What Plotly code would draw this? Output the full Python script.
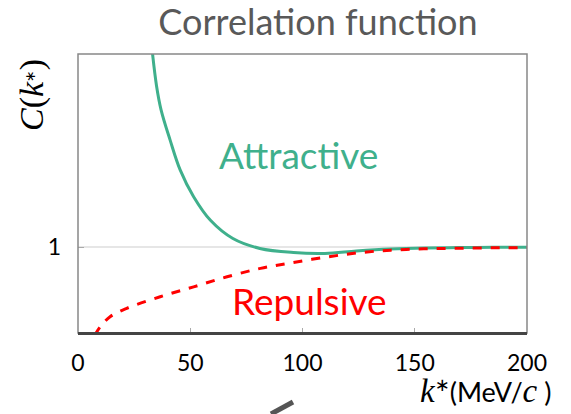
import plotly.graph_objects as go

# Data
k_attr = [33, 35, 37, 41, 45.5, 51.5, 59, 69, 81, 96, 110, 124, 139, 155, 170, 185, 200]
c_attr = [1.92, 1.75, 1.64, 1.50, 1.36, 1.235, 1.125, 1.04, 0.994, 0.975, 0.971, 0.982, 0.991, 0.996, 0.998, 0.999, 1.0]

k_rep = [7.5, 10, 14.3, 21.7, 36.6, 51.5, 66.4, 81.3, 94.6, 109.5, 124.4, 139.3, 154, 169, 185, 200]
c_rep = [0.59, 0.63, 0.676, 0.715, 0.769, 0.815, 0.862, 0.901, 0.926, 0.952, 0.973, 0.986, 0.992, 0.995, 0.997, 0.998]

x_ticks = [0, 50, 100, 150, 200]
y_ticks = [1]

GREEN = "#3fb08c"
RED = "#ff0000"
SERIF = "Liberation Serif"


def serif(ch, size):
    return f"<span style='font-family:{SERIF};font-size:{size}px'><i>{ch}</i></span>"


star_y = "<span style='font-family:DejaVu Sans;font-size:20px'><sup>∗</sup></span>"
star_x = "<sup><span style='font-family:DejaVu Sans;font-size:18px'>∗</span></sup>"

fig = go.Figure()
fig.add_trace(go.Scatter(x=k_attr, y=c_attr, mode="lines",
                         line=dict(color=GREEN, width=3, shape="spline"),
                         showlegend=False, hoverinfo="skip"))
fig.add_trace(go.Scatter(x=k_rep, y=c_rep, mode="lines",
                         line=dict(color=RED, width=3, dash="dash", shape="spline"),
                         showlegend=False, hoverinfo="skip"))

fig.update_layout(
    width=571, height=414,
    margin=dict(l=78, r=44, t=54, b=81),
    paper_bgcolor="white", plot_bgcolor="white",
    font=dict(family="Lato", color="black"),
    title=dict(text="Correlation function", x=318/571, xanchor="center",
               y=1-22/414, yanchor="middle", yref="container",
               font=dict(family="Lato", size=36, color="#595959")),
    xaxis=dict(range=[0, 200], tickvals=x_ticks, ticks="inside", ticklen=5,
               tickcolor="#aaaaaa", showgrid=False, zeroline=False,
               showline=True, linecolor="#444444", linewidth=2,
               tickfont=dict(family="Lato", size=23, color="black"),
               ticklabelstandoff=8),
    yaxis=dict(range=[0.6, 1.9], tickvals=y_ticks, ticks="inside", ticklen=6,
               tickcolor="#aaaaaa", showgrid=True, gridcolor="#e6e6e6", gridwidth=2,
               zeroline=False, showline=False,
               tickfont=dict(family="Lato", size=23, color="black"),
               ticklabelstandoff=16),
    shapes=[
        dict(type="rect", xref="x domain", yref="y domain", x0=0, x1=1, y0=0, y1=1,
             line=dict(color="#888888", width=1.5), fillcolor="rgba(0,0,0,0)", layer="above"),
        dict(type="line", xref="x domain", yref="y domain", x0=0, x1=1, y0=0, y1=0,
             line=dict(color="#444444", width=2), layer="above"),
        dict(type="line", xref="paper", yref="paper",
             x0=(271-78)/449, y0=(333-414)/279, x1=(293-78)/449, y1=(333-402)/279,
             line=dict(color="#555555", width=5)),
    ],
    annotations=[
        dict(text="Attractive", x=98.4, y=1.43, xref="x", yref="y", showarrow=False,
             font=dict(family="Lato", size=37, color=GREEN), xanchor="center", yanchor="middle"),
        dict(text="Repulsive", x=103.3, y=0.753, xref="x", yref="y", showarrow=False,
             font=dict(family="Lato", size=37, color=RED), xanchor="center", yanchor="middle"),
        dict(text=f"{serif('C', 34)}<span style='font-family:{SERIF}'>(</span>{serif('k', 34)}{star_y}<span style='font-family:{SERIF}'>)</span>",
             x=(32-78)/449, y=(333-95)/279,
             xref="paper", yref="paper", showarrow=False, textangle=-90,
             font=dict(family=SERIF, size=34, color="black"), xanchor="center", yanchor="middle"),
        dict(text=f"{serif('k', 33)}{star_x}(MeV/{serif('c', 33)} )",
             x=(553-78)/449, y=(333-391)/279, xref="paper", yref="paper", showarrow=False,
             font=dict(family="Lato", size=27, color="black"), xanchor="right", yanchor="middle"),
    ],
)

fig.write_html("out.html", config={"displayModeBar": False},
               post_script="document.body.style.margin='0';")
